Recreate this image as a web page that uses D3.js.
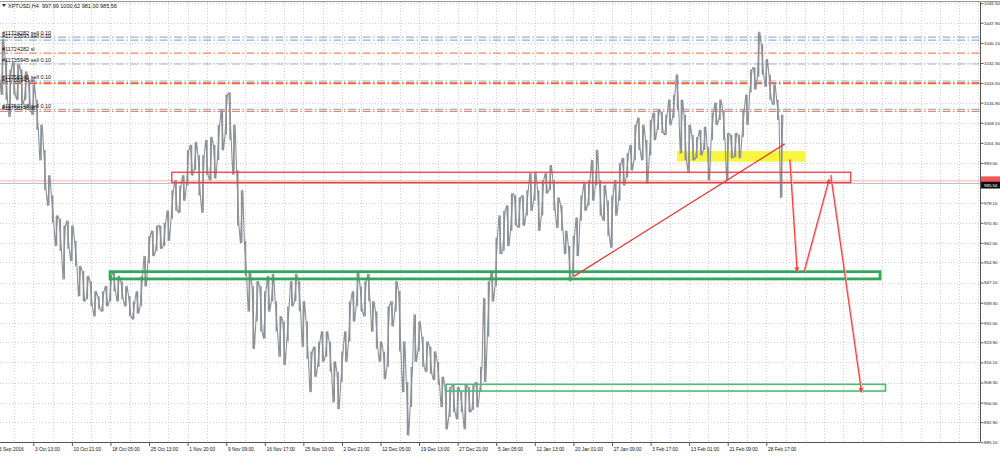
<!DOCTYPE html>
<html><head><meta charset="utf-8">
<script src="https://cdn.jsdelivr.net/npm/d3@7"></script>
<style>html,body{margin:0;padding:0;background:#fff;overflow:hidden}</style>
</head><body>
<svg id="c" width="1000" height="456"></svg>
<script>
const chartTitle = "XPTUSD,H4  997.99 1000.62 981.00 985.56";

// H4 bars (high / low)
const barHigh = [
1045.4,1041.5,1033.7,1029.8,1032.9,1031.7,1029.8,1029.0,1025.9,1023.9,
1018.0,1008.3,998.5,988.7,980.9,973.1,971.9,969.2,971.1,969.2,
963.3,953.5,951.6,949.6,947.6,943.7,941.8,943.7,945.7,949.6,
951.6,949.6,947.6,945.7,941.8,939.8,943.7,949.6,957.4,965.3,
967.2,969.2,969.2,970.3,975.0,982.9,986.8,984.8,988.7,998.5,
1000.5,1001.6,996.5,996.5,1002.4,1003.6,1000.5,1008.3,1014.1,1020.0,
1020.8,1008.3,990.7,982.9,963.3,951.6,945.7,947.6,945.7,943.7,
949.6,950.4,939.8,934.0,932.0,937.9,947.6,950.4,947.6,939.8,
932.0,920.3,922.2,924.2,928.1,928.1,924.2,916.4,912.5,920.3,
928.1,939.8,943.7,951.6,945.7,947.6,950.4,939.8,935.9,924.2,
920.3,937.9,
939.8,947.6,943.7,924.2,908.5,914.4,934.7,932.0,926.1,924.2,
922.2,920.3,916.4,910.5,906.6,906.6,907.4,906.6,904.6,907.4,
906.6,907.4,908.5,914.4,941.0,947.6,951.6,964.5,973.1,975.0,
977.0,981.7,980.9,980.1,980.9,982.9,989.5,989.9,982.9,986.8,
989.5,992.6,986.8,980.1,977.0,967.2,961.3,965.3,972.3,980.9,
985.6,986.8,994.6,998.5,986.8,984.8,978.9,980.9,986.8,993.4,
995.4,997.3,1000.5,1008.3,1011.0,1008.3,1002.4,1010.2,1013.0,1014.1,
1013.4,1012.2,1018.0,1020.0,1027.8,1018.0,1012.2,1008.3,1004.4,1003.6,
1006.3,1007.5,999.7,1013.0,1016.9,1018.0,1014.1,1005.1,1004.4,1005.1,
1004.4,1014.1,1020.0,1029.8,1030.6,1044.3,1039.6,1033.7,1027.8,1023.9,
1018.0,1012.2
];
const barLow = [
1025.9,1020.0,1018.0,1011.4,1020.0,1018.0,1016.1,1018.0,1014.1,1012.2,
1006.3,994.6,982.9,977.0,970.3,961.3,959.4,948.4,960.2,955.5,
953.5,941.8,939.8,940.6,937.9,934.0,936.7,935.9,937.9,939.8,
943.7,939.8,940.6,937.9,934.0,932.8,935.1,937.9,945.7,954.7,
957.4,959.4,960.2,961.3,963.3,971.9,975.0,974.2,978.9,984.8,
988.7,990.7,980.9,974.2,988.7,986.8,987.5,994.6,998.5,1004.4,
1002.4,989.0,969.2,962.5,949.6,935.9,921.4,932.0,928.1,925.4,
935.9,939.8,928.1,918.3,915.2,924.2,937.9,939.8,935.9,922.2,
917.5,904.6,910.5,914.4,916.4,918.3,912.5,900.7,898.0,908.5,
916.4,924.2,932.0,937.9,935.9,934.0,939.8,928.1,921.4,916.4,
909.7,914.4,
930.1,935.9,920.3,904.6,887.8,898.8,916.4,920.3,914.4,912.5,
911.7,909.3,907.4,898.8,890.2,894.9,896.8,894.1,896.8,890.2,
896.8,897.6,898.8,904.6,908.5,926.1,939.8,945.7,958.2,959.4,
961.3,967.2,969.2,968.4,969.2,973.1,975.0,978.9,967.2,973.1,
981.7,982.9,975.0,968.4,967.2,958.2,947.6,949.6,957.4,971.1,
975.0,977.0,978.9,984.8,973.1,971.1,965.3,960.6,973.1,978.9,
984.8,987.9,990.7,994.6,998.5,994.6,985.6,996.5,1002.4,1006.3,
1005.1,1004.4,1008.3,1011.0,1014.1,997.3,994.6,989.9,994.6,995.4,
996.5,998.5,986.8,1002.4,1008.3,1010.2,1002.4,986.8,995.4,995.8,
995.4,1003.6,1008.3,1020.8,1022.0,1027.0,1027.8,1023.1,1018.0,1016.1,
1010.2,980.1
];

const bidPrice = 985.56;
const askPrice = 986.56;

const priceTicks = [885.10,892.90,900.50,908.30,916.10,923.90,931.50,939.30,947.10,954.90,962.50,970.30,978.10,985.90,993.50,1001.30,1009.10,1016.90,1024.50,1032.30,1040.10,1047.90,1055.50];
const dateTickBars = [-1,9,19,29,39,49,59,69,79,89,99,109,119,129,139,149,159,169,179,189,199];
const dateTickLabels = ["26 Sep 2016","3 Oct 13:00","10 Oct 21:00","18 Oct 05:00","25 Oct 13:00","1 Nov 20:00","9 Nov 09:00","16 Nov 17:00","25 Nov 10:00","2 Dec 21:00","12 Dec 05:00","19 Dec 13:00","27 Dec 21:00","5 Jan 05:00","12 Jan 13:00","20 Jan 01:00","27 Jan 09:00","3 Feb 17:00","13 Feb 01:00","21 Feb 09:00","28 Feb 17:00"];

// order lines
const orderPrices = [1042.3,1041.2,1036.1,1031.9,1025.3,1024.4,1014.3,1013.5];
const orderKinds  = ["entry","entry","sl","entry","entry","slBold","entry","sl"];
const orderLabels = ["#11724282 sell 0.10","#11725593 sell 0.10","#11724282 sl","#11735945 sell 0.10","#11758146 sell 0.10","#11735945 sl","#11760148 sell 0.10","#11758146 sl"];

// drawn objects: [bar1, price1, bar2, price2]
const redZone    = [44.9, 989.9, 220.9, 985.9];
const yellowZone = [175.9, 998.1, 209.2, 994.0];
const greenZone  = [28.9, 951.3, 228.5, 948.5];
const greenTarget= [116.0, 907.6, 229.9, 905.0];
const trendLine  = [149.0, 949.4, 203.8, 1000.9];
const arrowLines = [
  [205.1, 994.9, 207.0, 951.3],
  [208.8, 951.3, 215.3, 987.2],
  [215.7, 988.8, 223.7, 904.5]
];

const W = 1000, H = 456, plotR = 980, plotT = 2, plotB = 442;
const font = "'Liberation Sans', Arial, sans-serif";
const x = d3.scaleLinear().domain([0, 254.4]).range([-1.4, plotR]);
const y = d3.scaleLinear().domain([885.1, 1055.5]).range([442.3, 3.2]);

const svg = d3.select("#c");
svg.append("rect").attr("width", W).attr("height", H).attr("fill", "#fff");
const defs = svg.append("defs");
defs.append("clipPath").attr("id", "plot").append("rect")
  .attr("x", 0).attr("y", plotT).attr("width", plotR).attr("height", plotB - plotT);
defs.append("marker").attr("id", "ah").attr("viewBox", "0 0 10 10")
  .attr("refX", 9).attr("refY", 5).attr("markerWidth", 6).attr("markerHeight", 5)
  .attr("markerUnits", "userSpaceOnUse").attr("orient", "auto")
  .append("path").attr("d", "M0,0 L10,5 L0,10 Z").attr("fill", "#f04545");

const g = svg.append("g").attr("clip-path", "url(#plot)");

// grid
g.selectAll(".hg").data(priceTicks).join("line")
  .attr("x1", 0).attr("x2", plotR)
  .attr("y1", d => Math.round(y(d)) + 0.5).attr("y2", d => Math.round(y(d)) + 0.5)
  .attr("stroke", "#cfcfcf").attr("stroke-width", 1).attr("stroke-dasharray", "1,2");
const gridBars = d3.range(-1, 255, 5);
g.selectAll(".vg").data(gridBars).join("line")
  .attr("y1", plotT).attr("y2", plotB)
  .attr("x1", d => Math.round(x(d)) + 0.5).attr("x2", d => Math.round(x(d)) + 0.5)
  .attr("stroke", "#cfcfcf").attr("stroke-width", 1).attr("stroke-dasharray", "1,2");

// yellow zone (background object)
g.append("rect")
  .attr("x", x(yellowZone[0])).attr("y", y(yellowZone[1]))
  .attr("width", x(yellowZone[2]) - x(yellowZone[0]))
  .attr("height", y(yellowZone[3]) - y(yellowZone[1]))
  .attr("fill", "#f7f53e");

// order lines
const lineStyle = {
  entry: {c: "#93b4d6", w: 1.2},
  sl: {c: "#f3845f", w: 1.2},
  slBold: {c: "#f0652f", w: 2}
};
orderPrices.forEach((p, i) => {
  const s = lineStyle[orderKinds[i]];
  g.append("line").attr("x1", 0).attr("x2", plotR)
    .attr("y1", y(p)).attr("y2", y(p))
    .attr("stroke", s.c).attr("stroke-width", s.w)
    .attr("stroke-dasharray", "8,2.5,1.5,2.5");
});

// ask & bid lines
g.append("line").attr("x1", 0).attr("x2", plotR).attr("y1", y(askPrice)).attr("y2", y(askPrice))
  .attr("stroke", "#ffabab").attr("stroke-width", 1);
g.append("line").attr("x1", 0).attr("x2", plotR).attr("y1", y(bidPrice)).attr("y2", y(bidPrice))
  .attr("stroke", "#bdbdbd").attr("stroke-width", 1);

// bars: vertical high-low strokes plus a zigzag trace between them
const barColor = "#8e9197";
g.selectAll(".bar").data(barHigh).join("line")
  .attr("x1", (d, i) => x(i)).attr("x2", (d, i) => x(i))
  .attr("y1", d => y(d)).attr("y2", (d, i) => y(barLow[i]))
  .attr("stroke", barColor).attr("stroke-width", 1.6);
const zig = [];
barHigh.forEach((h, i) => {
  const a = i % 2 === 0 ? h : barLow[i];
  const b = i % 2 === 0 ? barLow[i] : h;
  zig.push([x(i) - 1.2, y(a)]);
  zig.push([x(i) + 1.2, y(b)]);
});
g.append("path").attr("d", d3.line()(zig)).attr("fill", "none")
  .attr("stroke", barColor).attr("stroke-width", 1.1).attr("stroke-linejoin", "round");

// order labels
orderPrices.forEach((p, i) => {
  g.append("text").attr("x", 2).attr("y", y(p) - 1.8)
    .attr("font-family", font).attr("font-size", 5.5).attr("fill", "#111")
    .text(orderLabels[i]);
});

// zones
function zone(z, color, w) {
  g.append("rect")
    .attr("x", x(z[0])).attr("y", y(z[1]))
    .attr("width", x(z[2]) - x(z[0]))
    .attr("height", y(z[3]) - y(z[1]))
    .attr("fill", "none").attr("stroke", color).attr("stroke-width", w);
}
zone(redZone, "#f23c3c", 1.3);
zone(greenZone, "#2ea85a", 2.8);
zone(greenTarget, "#4cba70", 1.6);

// trend line
g.append("line")
  .attr("x1", x(trendLine[0])).attr("y1", y(trendLine[1]))
  .attr("x2", x(trendLine[2])).attr("y2", y(trendLine[3]))
  .attr("stroke", "#e33b3b").attr("stroke-width", 1.3);

// arrows
arrowLines.forEach(a => {
  g.append("line")
    .attr("x1", x(a[0]) + 1).attr("y1", y(a[1]))
    .attr("x2", x(a[2]) + 1).attr("y2", y(a[3]))
    .attr("stroke", "#f7c4c4").attr("stroke-width", 1);
  g.append("line")
    .attr("x1", x(a[0])).attr("y1", y(a[1]))
    .attr("x2", x(a[2])).attr("y2", y(a[3]))
    .attr("stroke", "#f04545").attr("stroke-width", 1.3)
    .attr("marker-end", "url(#ah)");
});

// top border
svg.append("line").attr("x1", 0).attr("x2", W).attr("y1", 1.5).attr("y2", 1.5)
  .attr("stroke", "#9a9a9a").attr("stroke-width", 1);

// title
svg.append("path").attr("d", "M2,4 L6,4 L4,7 Z").attr("fill", "#333");
svg.append("text").attr("x", 8).attr("y", 8).attr("font-family", font)
  .attr("font-size", 5.5).attr("fill", "#111").attr("xml:space", "preserve")
  .style("white-space", "pre").text(chartTitle);

// axes (the tick label sitting under the bid price box is hidden, as in the terminal)
const fmt = d3.format(".2f");
const yAxis = d3.axisRight(y).tickValues(priceTicks).tickSize(3).tickPadding(0.5)
  .tickFormat(d => Math.abs(d - bidPrice) < 1.5 ? "" : fmt(d));
const ya = svg.append("g").attr("transform", `translate(${plotR + 0.5},0)`).call(yAxis);
ya.select(".domain").attr("stroke", "#555").attr("d", `M0,${plotT}V${plotB}`);
ya.selectAll(".tick line").attr("stroke", "#555");
ya.selectAll(".tick text").attr("font-family", font).attr("font-size", 4.4).attr("fill", "#111");

const xAxis = d3.axisBottom(x).tickValues(dateTickBars).tickSize(3.5).tickPadding(1.5)
  .tickFormat((d, i) => dateTickLabels[i]);
const xa = svg.append("g").attr("transform", `translate(0,${plotB + 0.5})`).call(xAxis);
xa.select(".domain").attr("stroke", "#555").attr("d", `M0,0H${plotR}`);
xa.selectAll(".tick line").attr("stroke", "#555");
xa.selectAll(".tick text").attr("font-family", font).attr("font-size", 4.8).attr("fill", "#111")
  .attr("text-anchor", "start").attr("x", 1.2);

// ask / bid price labels on the axis
svg.append("rect").attr("x", plotR + 1).attr("y", y(askPrice) - 4.5).attr("width", 20).attr("height", 7)
  .attr("fill", "#f05a5a");
svg.append("rect").attr("x", plotR + 1).attr("y", y(bidPrice) - 1.7).attr("width", 20).attr("height", 6.8)
  .attr("fill", "#111");
svg.append("text").attr("x", plotR + 4).attr("y", y(bidPrice) + 3.3).attr("font-family", font)
  .attr("font-size", 4.4).attr("fill", "#fff").text(fmt(bidPrice));
</script>
</body></html>
